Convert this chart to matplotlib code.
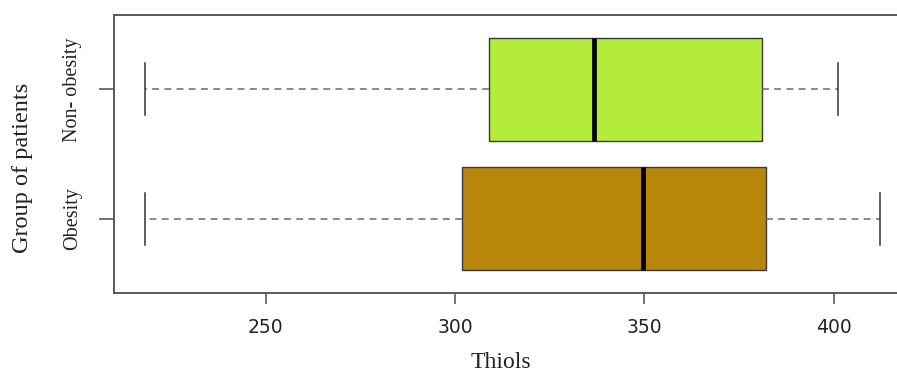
import matplotlib
matplotlib.use("Agg")
import matplotlib.pyplot as plt

# Summary statistics of thiol levels per patient group
groups = ["Obesity", "Non- obesity"]
whislo = [218.0, 218.0]
q1 = [301.8, 309.0]
med = [349.5, 336.7]
q3 = [382.0, 381.1]
whishi = [412.2, 401.1]
colors = ["#B8860B", "#B3EC3A"]

stats = []
for i, g in enumerate(groups):
    stats.append({"label": g, "whislo": whislo[i], "q1": q1[i], "med": med[i],
                  "q3": q3[i], "whishi": whishi[i], "fliers": []})

fig = plt.figure(figsize=(8.97, 3.76), dpi=100)
ax = fig.add_axes([114 / 897, 83 / 376, 1 - 114 / 897, 278 / 376])

frame = "#5a5a5a"
bp = ax.bxp(stats, positions=[1, 2], vert=False, widths=0.8, capwidths=0.4,
            patch_artist=True, showfliers=False,
            boxprops=dict(edgecolor="#3a3a3a", linewidth=1.0),
            medianprops=dict(color="black", linewidth=3.4, solid_capstyle="butt"),
            whiskerprops=dict(color="#6a6a6a", linewidth=1.1, linestyle=(0, (4.5, 3.5))),
            capprops=dict(color="#333333", linewidth=1.1))
for patch, c in zip(bp["boxes"], colors):
    patch.set_facecolor(c)

ax.set_xlim(209.9, 416.7)
ax.set_ylim(0.426, 2.574)
ax.set_xticks([250, 300, 350, 400])
ax.set_yticks([1, 2])

ax.spines["right"].set_visible(False)
for s in ["left", "top", "bottom"]:
    ax.spines[s].set_color(frame)
    ax.spines[s].set_linewidth(1.4)

ax.tick_params(axis="x", length=8, width=1.2, color=frame, pad=10,
               labelsize=13.5, labelcolor="#222222")
ax.tick_params(axis="y", length=11, width=1.2, color=frame, pad=12)
ax.set_yticklabels(groups, rotation=90, va="center", family="Liberation Serif",
                   fontsize=14.5, color="#222222")
for lab in ax.get_xticklabels():
    lab.set_family("DejaVu Sans")

ax.set_xlabel("Thiols", family="Liberation Serif", fontsize=17, color="#222222",
              va="center")
ax.xaxis.set_label_coords(0.494, -0.25)
ax.set_ylabel("Group of patients", family="Liberation Serif", fontsize=17.5,
              color="#222222", va="center", ha="center")
ax.yaxis.set_label_coords(-0.1165, 0.45)

fig.savefig("out.png", dpi=100)
